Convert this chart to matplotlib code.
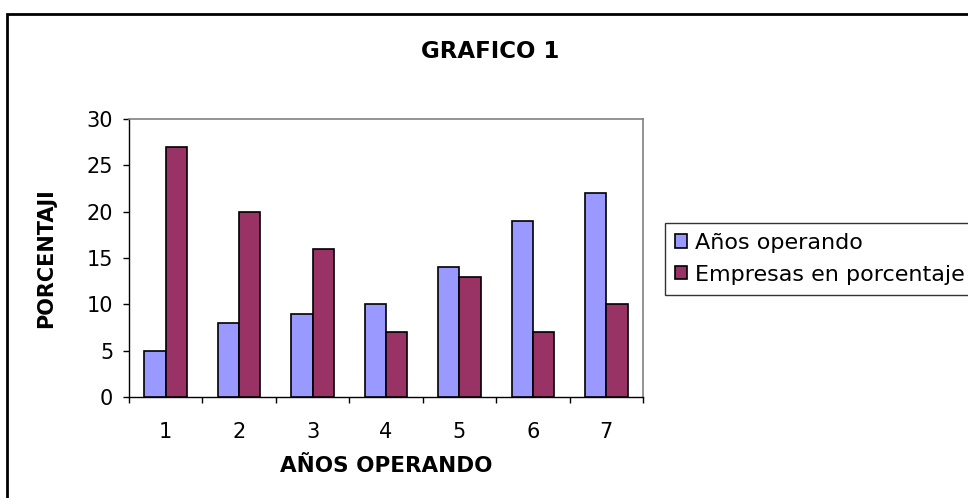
import matplotlib
matplotlib.use("Agg")
import matplotlib.pyplot as plt
import numpy as np
from matplotlib.patches import Rectangle

# Data
categories = ["1", "2", "3", "4", "5", "6", "7"]
anos_operando = [5, 8, 9, 10, 14, 19, 22]
empresas_pct = [27, 20, 16, 7, 13, 7, 10]
series_names = ["Años operando", "Empresas en porcentaje"]

plt.rcParams["font.family"] = ["DejaVu Sans"]

fig = plt.figure(figsize=(9.68, 4.98), dpi=100)
ax = fig.add_axes([129 / 968, 1 - 397 / 498, (643 - 129) / 968, (397 - 119) / 498])

x = np.arange(len(categories))
w = 0.29
ax.bar(x - w / 2, anos_operando, w, color="#9999FF", edgecolor="black", linewidth=1.2,
       label=series_names[0], zorder=3)
ax.bar(x + w / 2, empresas_pct, w, color="#993366", edgecolor="black", linewidth=1.2,
       label=series_names[1], zorder=3)

ax.set_xlim(-0.5, len(categories) - 0.5)
ax.set_ylim(0, 30)
ax.set_yticks(range(0, 31, 5))
ax.set_xticks(x)
ax.set_xticklabels(categories)
ax.set_xticks(np.arange(-0.5, len(categories)), minor=True)
ax.tick_params(axis="x", which="major", length=0, pad=18, labelsize=15)
ax.tick_params(axis="x", which="minor", length=4.3, width=1, color="black")
ax.tick_params(axis="y", length=4.3, width=1, pad=7, labelsize=15)

for side in ["top", "right"]:
    ax.spines[side].set_color("#808080")
    ax.spines[side].set_linewidth(1.2)
for side in ["left", "bottom"]:
    ax.spines[side].set_color("black")
    ax.spines[side].set_linewidth(1)

ax.set_xlabel("AÑOS OPERANDO", fontsize=15.5, fontweight="bold", labelpad=10)
ax.set_ylabel("PORCENTAJI", fontsize=15, fontweight="bold", labelpad=22)
fig.text(490 / 968, 1 - 52 / 498, "GRAFICO 1", fontsize=16.5, fontweight="bold",
         ha="center", va="center")

leg = fig.legend(loc="upper left", bbox_to_anchor=(665 / 968, 1 - 223 / 498),
                 fontsize=16, frameon=True, fancybox=False, edgecolor="black",
                 handlelength=0.55, handleheight=0.55, handletextpad=0.35,
                 borderpad=0.45, labelspacing=0.52, borderaxespad=0)
leg.get_frame().set_linewidth(1)

# outer chart border
fig.patches.append(Rectangle((7 / 968, -0.1), 1.2, 1 - 14 / 498 + 0.1, transform=fig.transFigure,
                             fill=False, edgecolor="black", linewidth=2))

fig.savefig("out.png", dpi=100)
